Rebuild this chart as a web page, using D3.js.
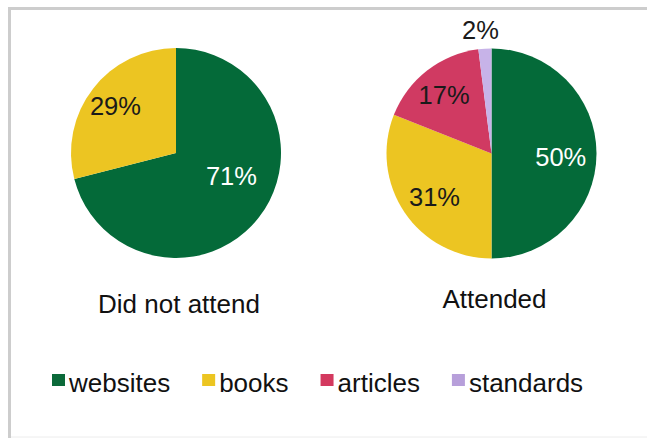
<!DOCTYPE html>
<html><head><meta charset="utf-8">
<script src="https://cdn.jsdelivr.net/npm/d3@7"></script>
<style>
body{margin:0;background:#fff}
svg{display:block}
text{font-family:"Liberation Sans",Arial,Helvetica,sans-serif}
</style>
</head><body>
<svg id="c" width="647" height="438"></svg>
<script>
// ---- data ----
const categories = ["websites", "books", "articles", "standards"];
const groups = ["Did not attend", "Attended"];
const didNotAttend = [71, 29, 0, 0];
const attended = [50, 31, 17, 2];
const seriesValues = [didNotAttend, attended];

// ---- styles / layout ----
const sliceColors = ["#046a39", "#ecc522", "#d03a62", "#c7b3e8"];
const legendColors = ["#0b6a3a", "#ecc521", "#d3395f", "#b79fda"];
const labelColors = ["#ffffff", "#1a1a1a", "#1a1a1a", "#1a1a1a"];
const centers = [[176, 153], [491.5, 153.5]];
const titleBaselines = [313, 308];
const radius = 105;
// label placement tweaks (radius factor, angle shift in degrees)
const labelRadius = [[0.57, 0.73, 0.72, 0.72], [0.66, 0.68, 0.72, 1.18]];
const labelShift = [[-15.6, 0, 0, 0], [2.4, -2.8, -1, -1.5]];

const svg = d3.select("#c");

// frame
svg.append("line").attr("x1", 9.5).attr("x2", 9.5).attr("y1", 7).attr("y2", 438)
  .attr("stroke", "#cdcdcd").attr("stroke-width", 3);
svg.append("line").attr("x1", 8).attr("x2", 647).attr("y1", 8.5).attr("y2", 8.5)
  .attr("stroke", "#cdcdcd").attr("stroke-width", 3);
svg.append("line").attr("x1", 11).attr("x2", 647).attr("y1", 437).attr("y2", 437)
  .attr("stroke", "#ececec").attr("stroke-width", 1);

const pie = d3.pie().sort(null).value(d => d.value);
const arc = d3.arc().innerRadius(0).outerRadius(radius);

seriesValues.forEach((vals, gi) => {
  const data = categories.map((c, i) => ({cat: c, idx: i, value: vals[i]}));
  const arcs = pie(data);
  const g = svg.append("g").attr("transform", `translate(${centers[gi][0]},${centers[gi][1]})`);
  g.selectAll("path").data(arcs.filter(a => a.data.value > 0)).join("path")
    .attr("d", arc)
    .attr("fill", d => sliceColors[d.data.idx]);
  g.selectAll("text.lbl").data(arcs.filter(a => a.data.value > 0)).join("text")
    .attr("class", "lbl")
    .each(function(d) {
      const i = d.data.idx;
      const mid = (d.startAngle + d.endAngle) / 2 + labelShift[gi][i] * Math.PI / 180;
      const r = radius * labelRadius[gi][i];
      d3.select(this)
        .attr("x", Math.sin(mid) * r)
        .attr("y", -Math.cos(mid) * r)
        .attr("fill", labelRadius[gi][i] > 1 ? "#1a1a1a" : labelColors[i]);
    })
    .attr("dy", "0.36em")
    .attr("text-anchor", "middle")
    .attr("font-size", 25.5)
    .text(d => d.data.value + "%");

  svg.append("text")
    .attr("x", centers[gi][0] + 3)
    .attr("y", titleBaselines[gi])
    .attr("text-anchor", "middle")
    .attr("font-size", 26)
    .attr("fill", "#111")
    .text(groups[gi]);
});

// legend
let lx = 52;
const legendY = 392;
categories.forEach((c, i) => {
  svg.append("rect").attr("x", lx).attr("y", 374).attr("width", 13).attr("height", 12)
    .attr("fill", legendColors[i]);
  const t = svg.append("text").attr("x", lx + 17).attr("y", legendY)
    .attr("font-size", 26).attr("fill", "#111").text(c);
  const w = t.node().getComputedTextLength();
  lx = lx + 17 + w + 32;
});
</script>
</body></html>
